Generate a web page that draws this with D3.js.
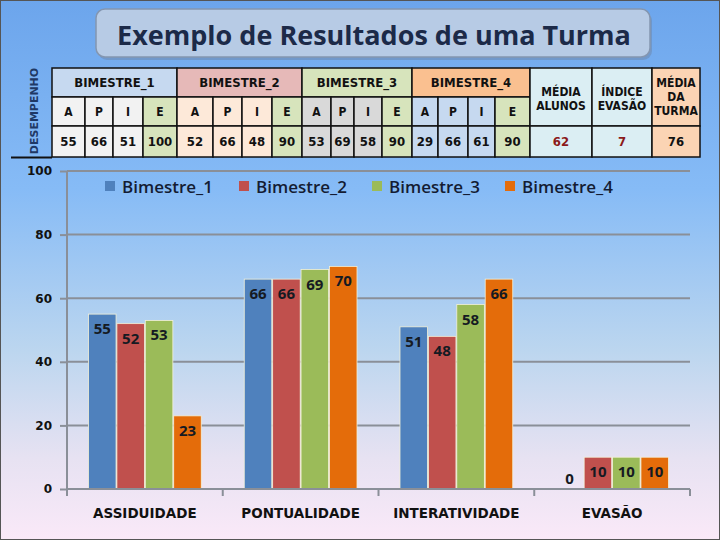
<!DOCTYPE html>
<html>
<head>
<meta charset="utf-8">
<script src="https://cdn.jsdelivr.net/npm/d3@7/dist/d3.min.js"></script>
<style>
  body { margin: 0; padding: 0; }
  svg { display: block; }
</style>
</head>
<body>
<svg id="chart" width="720" height="540"></svg>
<script>
var w = 720;
var h = 540;

// data
var categories = ["ASSIDUIDADE", "PONTUALIDADE", "INTERATIVIDADE", "EVASÃO"];
var series = ["Bimestre_1", "Bimestre_2", "Bimestre_3", "Bimestre_4"];
var bim1 = [55, 66, 51, 0];
var bim2 = [52, 66, 48, 10];
var bim3 = [53, 69, 58, 10];
var bim4 = [23, 70, 66, 10];
var yTicks = [0, 20, 40, 60, 80, 100];

// table data
var tableGroups = ["BIMESTRE_1", "BIMESTRE_2", "BIMESTRE_3", "BIMESTRE_4"];
var subHeads = ["A", "P", "I", "E"];
var tableValues = [[55, 66, 51, 100], [52, 66, 48, 90], [53, 69, 58, 90], [29, 66, 61, 90]];
var summaryHeads = [["MÉDIA", "ALUNOS"], ["ÍNDICE", "EVASÃO"], ["MÉDIA", "DA", "TURMA"]];
var summaryValues = [62, 7, 76];

var colors = ["#4f81bd", "#c0504d", "#9bbb59", "#e46c0a"];

var svg = d3.select("#chart");
var defs = svg.append("defs");

var bg = defs.append("linearGradient").attr("id", "bg")
  .attr("x1", 0).attr("y1", 0).attr("x2", 0).attr("y2", 1);
bg.append("stop").attr("offset", "0%").attr("stop-color", "#6ca5ec");
bg.append("stop").attr("offset", "35%").attr("stop-color", "#86bbf6");
bg.append("stop").attr("offset", "65%").attr("stop-color", "#bcd6ef");
bg.append("stop").attr("offset", "85%").attr("stop-color", "#e7e2f2");
bg.append("stop").attr("offset", "100%").attr("stop-color", "#fae9f8");

svg.append("rect").attr("width", w).attr("height", h).attr("fill", "url(#bg)");
svg.append("rect").attr("x", 0.5).attr("y", 0.5).attr("width", w - 1).attr("height", h - 1)
  .attr("fill", "none").attr("stroke", "#555").attr("stroke-width", 1);

// title box
svg.append("rect").attr("x", 98).attr("y", 12).attr("width", 554).attr("height", 48)
  .attr("rx", 9).attr("fill", "#6d86a8").attr("opacity", 0.5);
svg.append("rect").attr("x", 96).attr("y", 9).attr("width", 554).attr("height", 48)
  .attr("rx", 9).attr("fill", "#b7cbe5").attr("stroke", "#8496b0").attr("stroke-width", 1.5);
svg.append("text").attr("x", 374).attr("y", 45)
  .attr("text-anchor", "middle")
  .attr("font-family", "'Open Sans', sans-serif").attr("font-weight", "bold")
  .attr("font-size", "27px").attr("fill", "#1c2a48")
  .text("Exemplo de Resultados de uma Turma");

// ---- table ----
var tf = "'Liberation Sans Narrow', 'DejaVu Sans Condensed', sans-serif";
var groupEdges = [[52, 85, 113, 143, 177], [177, 213, 242, 272, 302], [302, 331, 354, 382, 412], [412, 438, 468, 495, 530]];
var headFill = ["#c6d9f0", "#e6b9b8", "#d7e4bc", "#fac090"];
var subFill = ["#f2f2f2", "#fde9d9", "#d9d9d9", "#c6d9f0"];
var eFill = "#d7e4bc";
var rowY = [68, 97, 126, 157];
var sumEdges = [530, 592, 652, 700];
var sumFill = ["#dbeef3", "#dbeef3", "#fbd4b4"];
var sumColor = ["#8b1a1a", "#8b1a1a", "#111"];

var table = svg.append("g").attr("class", "table");

function cell(x0, x1, y0, y1, fill) {
  table.append("rect").attr("x", x0).attr("y", y0)
    .attr("width", x1 - x0).attr("height", y1 - y0)
    .attr("fill", fill).attr("stroke", "#111").attr("stroke-width", 1.5);
}
function ctext(x, y, s, size, color) {
  table.append("text").attr("x", x).attr("y", y)
    .attr("text-anchor", "middle").attr("dominant-baseline", "central")
    .attr("font-family", tf).attr("font-weight", "bold")
    .attr("font-size", size).attr("fill", color || "#111").text(s);
}

tableGroups.forEach(function(g, i) {
  var e = groupEdges[i];
  cell(e[0], e[4], rowY[0], rowY[1], headFill[i]);
  ctext((e[0] + e[4]) / 2, (rowY[0] + rowY[1]) / 2, g, "13px");
  subHeads.forEach(function(s, j) {
    var f = j == 3 ? eFill : subFill[i];
    cell(e[j], e[j + 1], rowY[1], rowY[2], f);
    ctext((e[j] + e[j + 1]) / 2, (rowY[1] + rowY[2]) / 2, s, "12px");
    cell(e[j], e[j + 1], rowY[2], rowY[3], f);
    ctext((e[j] + e[j + 1]) / 2, (rowY[2] + rowY[3]) / 2, tableValues[i][j], "13px");
  });
});

summaryHeads.forEach(function(lines, i) {
  var x0 = sumEdges[i], x1 = sumEdges[i + 1];
  cell(x0, x1, rowY[0], rowY[2], sumFill[i]);
  var cy = (rowY[0] + rowY[2]) / 2 + (i == 2 ? 0 : 2);
  var lh = 14;
  lines.forEach(function(l, k) {
    ctext((x0 + x1) / 2, cy + (k - (lines.length - 1) / 2) * lh, l, "12px");
  });
  cell(x0, x1, rowY[2], rowY[3], sumFill[i]);
  ctext((x0 + x1) / 2, (rowY[2] + rowY[3]) / 2, summaryValues[i], "13px", sumColor[i]);
});

// DESEMPENHO label and line
svg.append("text")
  .attr("transform", "translate(34,111) rotate(-90)")
  .attr("text-anchor", "middle").attr("dominant-baseline", "central")
  .attr("font-family", "'DejaVu Sans', sans-serif").attr("font-weight", "bold")
  .attr("font-size", "11px").attr("fill", "#1f3864").text("DESEMPENHO");
svg.append("line").attr("x1", 11).attr("x2", 52).attr("y1", 157.5).attr("y2", 157.5)
  .attr("stroke", "#111").attr("stroke-width", 2);

// ---- chart ----
var pLeft = 67, pRight = 690, pTop = 171, pBottom = 489;

var y = d3.scaleLinear().domain([0, 100]).range([pBottom, pTop]);
var x0 = d3.scaleBand().domain(categories).range([pLeft, pRight])
  .paddingInner(0.276).paddingOuter(0.138);
var x1 = d3.scaleBand().domain(series).range([0, x0.bandwidth()]).paddingInner(0.03);

var data = categories.map(function(c, i) {
  return { cat: c, vals: [bim1[i], bim2[i], bim3[i], bim4[i]] };
});

// gridlines
svg.append("g").selectAll("line").data(yTicks.slice(1)).enter().append("line")
  .attr("x1", pLeft).attr("x2", pRight)
  .attr("y1", function(d) { return y(d); }).attr("y2", function(d) { return y(d); })
  .attr("stroke", "#8a8f98").attr("stroke-width", 2);

// y axis
var yAxis = svg.append("g").attr("transform", "translate(" + pLeft + ",0)")
  .call(d3.axisLeft(y).tickValues(yTicks).tickSize(7).tickPadding(8));
yAxis.select(".domain").attr("stroke", "#8a8f98").attr("stroke-width", 2).attr("d", "M0," + pTop + "V" + pBottom);
yAxis.selectAll(".tick line").attr("stroke", "#8a8f98").attr("stroke-width", 2);
yAxis.selectAll(".tick text").attr("font-family", "'DejaVu Sans', sans-serif")
  .attr("font-weight", "bold").attr("font-size", "12px").attr("fill", "#111");

// bars
var groups = svg.append("g").selectAll("g").data(data).enter().append("g")
  .attr("transform", function(d) { return "translate(" + x0(d.cat) + ",0)"; });

groups.selectAll("rect").data(function(d) { return d.vals; }).enter().append("rect")
  .attr("x", function(d, i) { return x1(series[i]); })
  .attr("y", function(d) { return y(d); })
  .attr("width", x1.bandwidth())
  .attr("height", function(d) { return pBottom - y(d); })
  .attr("fill", function(d, i) { return colors[i]; })
  .attr("stroke", function(d) { return d > 0 ? "#f3f1d8" : "none"; })
  .attr("stroke-width", 0.8);

groups.selectAll("text").data(function(d) { return d.vals; }).enter().append("text")
  .attr("x", function(d, i) { return x1(series[i]) + x1.bandwidth() / 2; })
  .attr("y", function(d) { return Math.min(y(d) + 14, pBottom - 11); })
  .attr("text-anchor", "middle").attr("dominant-baseline", "central")
  .attr("font-family", "'Open Sans', sans-serif").attr("font-weight", "bold")
  .attr("font-size", "15px").attr("fill", "#151a22")
  .text(function(d) { return d; });

// x axis
var xAxis = svg.append("g").attr("transform", "translate(0," + pBottom + ")");
xAxis.append("line").attr("x1", pLeft).attr("x2", pRight).attr("y1", 0).attr("y2", 0)
  .attr("stroke", "#8a8f98").attr("stroke-width", 2);
var step = x0.step();
xAxis.selectAll(".sep").data(d3.range(categories.length + 1)).enter().append("line")
  .attr("x1", function(d) { return pLeft + d * step; })
  .attr("x2", function(d) { return pLeft + d * step; })
  .attr("y1", 0).attr("y2", 7)
  .attr("stroke", "#8a8f98").attr("stroke-width", 2);
xAxis.selectAll("text").data(categories).enter().append("text")
  .attr("x", function(d) { return x0(d) + x0.bandwidth() / 2; })
  .attr("y", 24)
  .attr("text-anchor", "middle").attr("dominant-baseline", "central")
  .attr("font-family", "'DejaVu Sans', sans-serif").attr("font-weight", "bold")
  .attr("font-size", "13.5px").attr("fill", "#111")
  .text(function(d) { return d; });

// legend
var legendX = [105, 239, 372, 505];
var legend = svg.append("g").selectAll("g").data(series).enter().append("g")
  .attr("transform", function(d, i) { return "translate(" + legendX[i] + ",186)"; });
legend.append("rect").attr("x", 0).attr("y", -5).attr("width", 10).attr("height", 10)
  .attr("fill", function(d, i) { return colors[i]; });
legend.append("text").attr("x", 17).attr("y", 0)
  .attr("dominant-baseline", "central")
  .attr("font-family", "'Open Sans', sans-serif").attr("font-weight", "600")
  .attr("font-size", "17px").attr("fill", "#141c33")
  .text(function(d) { return d; });
</script>
</body>
</html>
